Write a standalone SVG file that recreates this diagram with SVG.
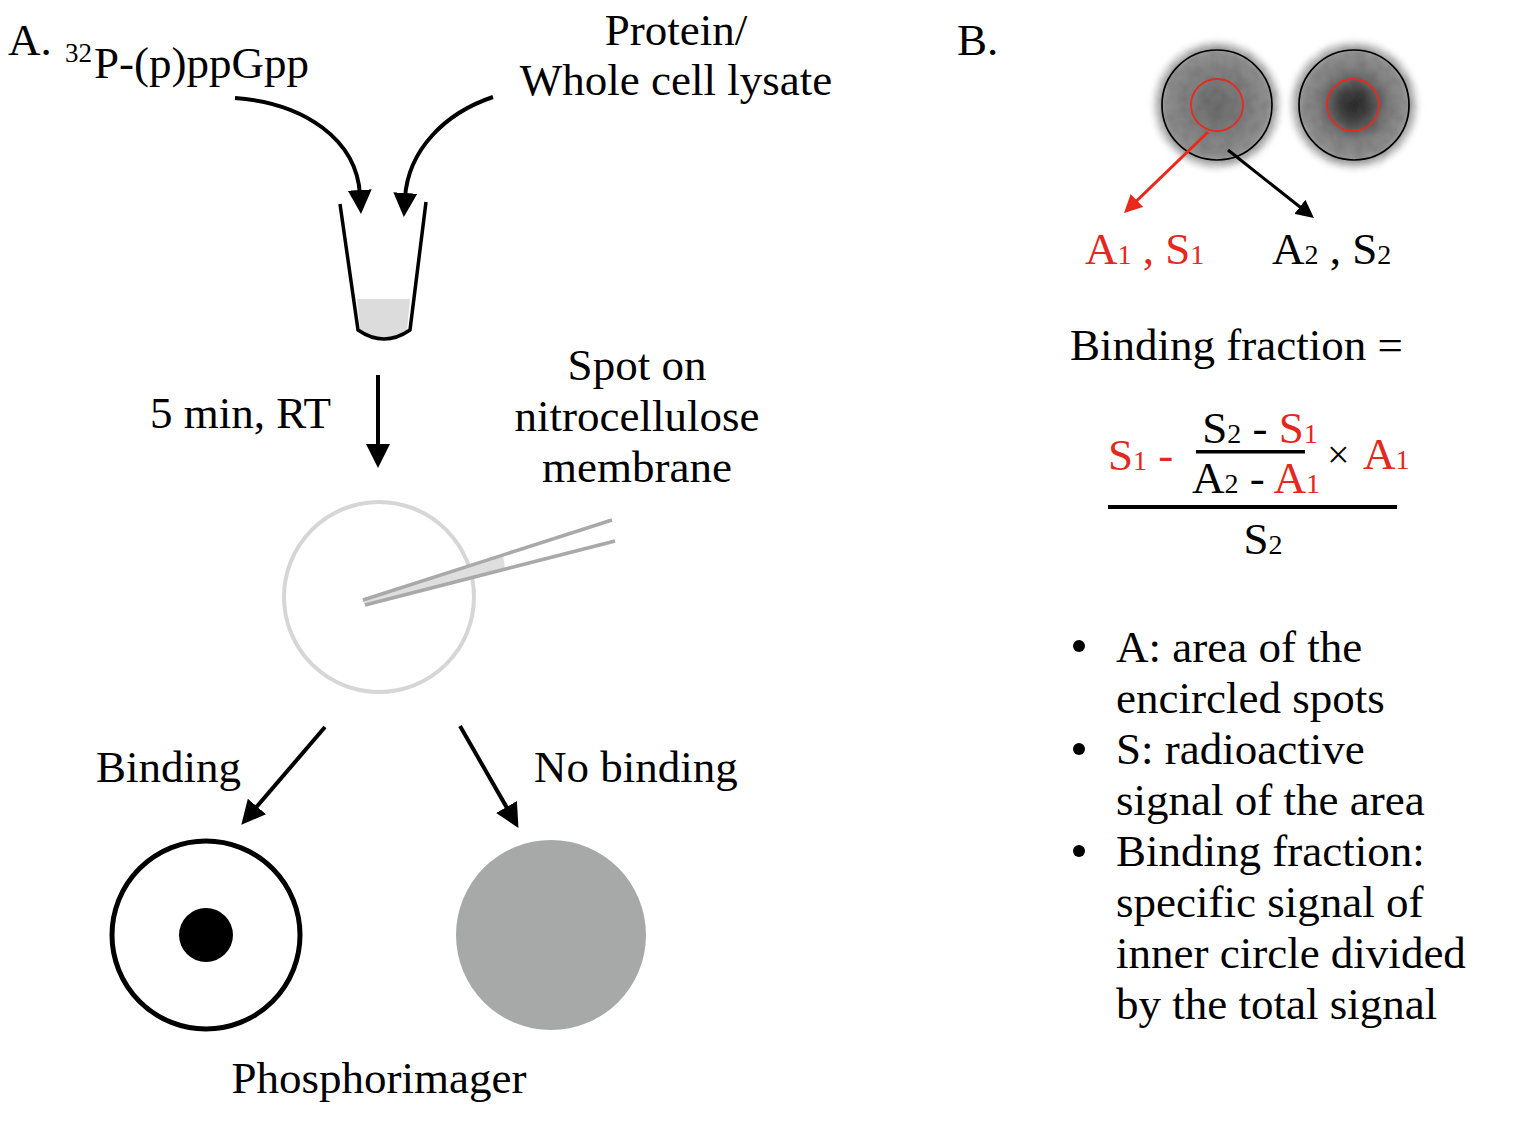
<svg xmlns="http://www.w3.org/2000/svg" width="1515" height="1125" viewBox="0 0 1515 1125">
<style>
.t{font-family:"Liberation Serif","Times New Roman",serif;font-size:45px;fill:#000}
.r{fill:#e4281d}
.sub{font-size:28px}
.conn{fill:none;stroke:#000;stroke-width:4}
.wall{fill:none;stroke:#000;stroke-width:3.5}
</style>
<defs>
<marker id="ah" markerUnits="userSpaceOnUse" markerWidth="24" markerHeight="24" refX="5" refY="12" orient="auto"><path d="M0,0 L24,12 L0,24 z" fill="#000"/></marker>
<marker id="ahs" markerUnits="userSpaceOnUse" markerWidth="18" markerHeight="18" refX="3" refY="9" orient="auto"><path d="M0,0 L18,9 L0,18 z" fill="#000"/></marker>
<marker id="ahr" markerUnits="userSpaceOnUse" markerWidth="18" markerHeight="18" refX="3" refY="9" orient="auto"><path d="M0,0 L18,9 L0,18 z" fill="#e8291c"/></marker>
<radialGradient id="g1" cx="0.5" cy="0.5" r="0.5">
<stop offset="0" stop-color="#6a6a6a"/><stop offset="0.3" stop-color="#787878"/><stop offset="0.6" stop-color="#858585"/><stop offset="0.8" stop-color="#909090"/><stop offset="0.9" stop-color="#adadad" stop-opacity="0.7"/><stop offset="1" stop-color="#e6e6e6" stop-opacity="0"/>
</radialGradient>
<radialGradient id="g2" cx="0.5" cy="0.5" r="0.5">
<stop offset="0" stop-color="#2c2c2c"/><stop offset="0.2" stop-color="#3e3e3e"/><stop offset="0.38" stop-color="#646464"/><stop offset="0.55" stop-color="#808080"/><stop offset="0.8" stop-color="#909090"/><stop offset="0.9" stop-color="#adadad" stop-opacity="0.7"/><stop offset="1" stop-color="#e6e6e6" stop-opacity="0"/>
</radialGradient>
<filter id="mottle" x="-25%" y="-25%" width="150%" height="150%">
<feGaussianBlur in="SourceGraphic" stdDeviation="2.5" result="b"/>
<feTurbulence type="fractalNoise" baseFrequency="0.09" numOctaves="2" seed="3" result="n"/>
<feColorMatrix in="n" type="matrix" values="0 0 0 0 0  0 0 0 0 0  0 0 0 0 0  0.35 0 0 0 -0.13" result="na"/>
<feComposite in="na" in2="b" operator="in" result="nd"/>
<feMerge><feMergeNode in="b"/><feMergeNode in="nd"/></feMerge>
</filter>
</defs>
<rect width="1515" height="1125" fill="#fff"/>

<g id="labelA"><text class="t" x="8" y="55">A.</text></g>
<g id="ppgpp"><text class="t" x="65" y="62" style="font-size:27px">32</text><text class="t" x="94" y="78">P-(p)ppGpp</text></g>
<g id="protein"><text class="t" x="676" y="45" text-anchor="middle">Protein/</text><text class="t" x="676" y="95" text-anchor="middle">Whole cell lysate</text></g>

<g id="tube">
<path d="M357,299 L410,299 L407,330 Q384,346 360,330 Z" fill="#dcdcdc"/>
<path class="wall" d="M340,204 L358,330 Q384,348 410,330 L426,202"/>
</g>

<g id="incubation"><text class="t" x="331" y="428" text-anchor="end">5 min, RT</text></g>
<g id="spotLabel"><text class="t" x="637" y="380" text-anchor="middle">Spot on</text><text class="t" x="637" y="431" text-anchor="middle">nitrocellulose</text><text class="t" x="637" y="482" text-anchor="middle">membrane</text></g>

<g id="membrane">
<circle cx="379" cy="597" r="95" fill="none" stroke="#d6d6d6" stroke-width="4"/>
<path d="M363,600 L503,555 L505,569 L365,605 Z" fill="#dedede"/>
<line x1="363" y1="600" x2="612" y2="520" stroke="#a9a9a9" stroke-width="3.5"/>
<line x1="365" y1="605" x2="615" y2="541" stroke="#a9a9a9" stroke-width="3.5"/>
</g>

<g id="bindingLabel"><text class="t" x="96" y="782">Binding</text></g>
<g id="noBindingLabel"><text class="t" x="534" y="782">No binding</text></g>
<g id="bindingSpot"><circle cx="206" cy="935" r="94" fill="#fff" stroke="#000" stroke-width="5"/><circle cx="206" cy="935" r="27" fill="#000"/></g>
<g id="noBindingSpot"><circle cx="551" cy="935" r="95" fill="#a6a9a8"/></g>
<g id="phosphor"><text class="t" x="379" y="1093" text-anchor="middle">Phosphorimager</text></g>

<g id="labelB"><text class="t" x="957" y="55">B.</text></g>

<g id="spots">
<circle cx="1217" cy="105" r="67" fill="url(#g1)" filter="url(#mottle)"/>
<circle cx="1354" cy="105" r="67" fill="url(#g2)" filter="url(#mottle)"/>
<circle cx="1217" cy="105" r="55" fill="none" stroke="#000" stroke-width="1.7"/>
<circle cx="1217" cy="105" r="26" fill="none" stroke="#e8291c" stroke-width="1.8"/>
<circle cx="1354" cy="105" r="55" fill="none" stroke="#000" stroke-width="1.7"/>
<circle cx="1353" cy="105" r="26" fill="none" stroke="#e8291c" stroke-width="1.8"/>
</g>

<g id="spotLabels">
<text class="t r" x="1085" y="264">A<tspan class="sub">1</tspan> , S<tspan class="sub">1</tspan></text>
<text class="t" x="1272" y="264">A<tspan class="sub">2</tspan> , S<tspan class="sub">2</tspan></text>
</g>

<g id="formula">
<text class="t" x="1070" y="360">Binding fraction =</text>
<text class="t r" x="1108" y="470">S<tspan class="sub">1</tspan> -</text>
<text class="t" x="1260" y="443" text-anchor="middle">S<tspan class="sub">2</tspan> - <tspan class="r">S</tspan><tspan class="r sub">1</tspan></text>
<rect x="1196" y="450" width="109" height="3.5" fill="#000"/>
<text class="t" x="1256" y="493" text-anchor="middle">A<tspan class="sub">2</tspan> - <tspan class="r">A</tspan><tspan class="r sub">1</tspan></text>
<text class="t" x="1327" y="468" style="font-size:40px">×</text>
<text class="t r" x="1363" y="469">A<tspan class="sub">1</tspan></text>
<rect x="1108" y="505" width="289" height="4" fill="#000"/>
<text class="t" x="1263" y="554" text-anchor="middle">S<tspan class="sub">2</tspan></text>
</g>

<g id="bullets">
<circle cx="1079" cy="646" r="6" fill="#000"/>
<circle cx="1079" cy="749" r="6" fill="#000"/>
<circle cx="1079" cy="851" r="6" fill="#000"/>
<text class="t" x="1116" y="662">A: area of the</text>
<text class="t" x="1116" y="713">encircled spots</text>
<text class="t" x="1116" y="764">S: radioactive</text>
<text class="t" x="1116" y="815">signal of the area</text>
<text class="t" x="1116" y="866">Binding fraction:</text>
<text class="t" x="1116" y="917">specific signal of</text>
<text class="t" x="1116" y="968">inner circle divided</text>
<text class="t" x="1116" y="1019">by the total signal</text>
</g>

<g id="connectors">
<path class="conn" d="M235,98 C305,103 357,140 360,195" marker-end="url(#ah)"/>
<path class="conn" d="M493,97 C445,113 408,150 405,198" marker-end="url(#ah)"/>
<line class="conn" x1="378" y1="375" x2="378" y2="449" marker-end="url(#ah)"/>
<line class="conn" x1="325" y1="727" x2="253.7" y2="810.3" marker-end="url(#ah)"/>
<line class="conn" x1="460" y1="726" x2="509" y2="811.4" marker-end="url(#ah)"/>
<line x1="1208" y1="132" x2="1134.8" y2="202.6" stroke="#e8291c" stroke-width="3" marker-end="url(#ahr)"/>
<line x1="1228" y1="150" x2="1302.2" y2="208.7" stroke="#000" stroke-width="3" marker-end="url(#ahs)"/>
</g>
</svg>
